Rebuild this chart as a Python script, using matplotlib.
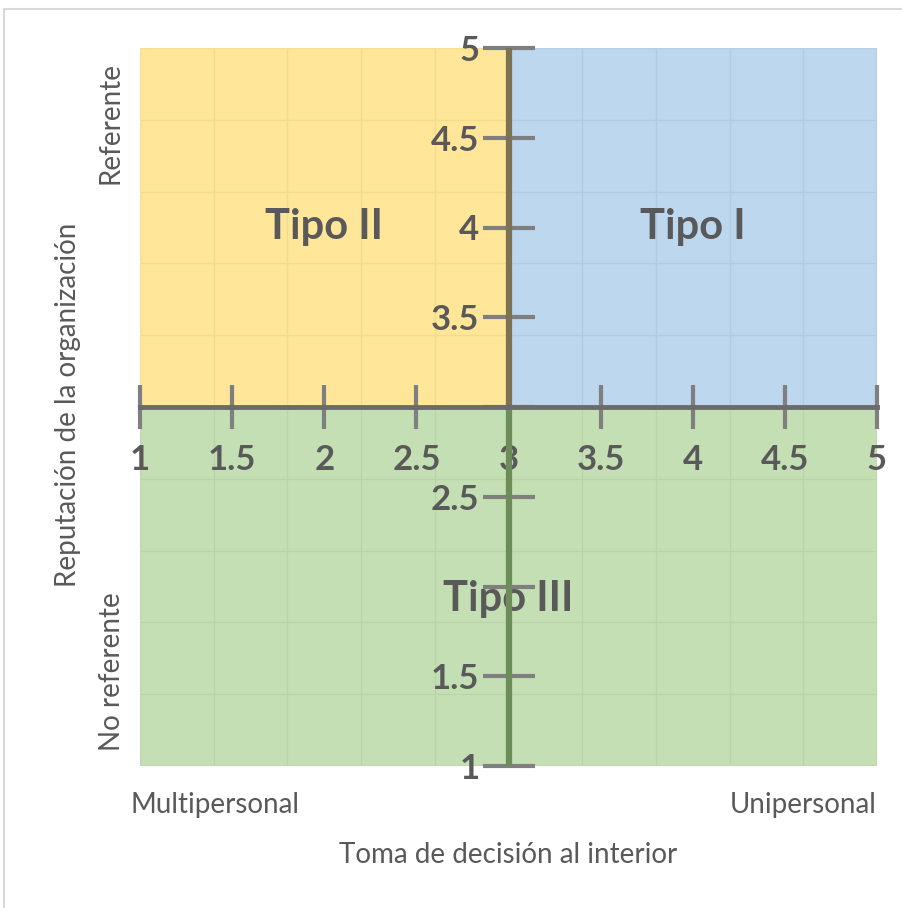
import numpy as np
import matplotlib.pyplot as plt
from matplotlib.patches import Rectangle

plt.rcParams['font.family'] = ['Lato', 'DejaVu Sans']

# Cuadrantes de la matriz (rango en x, rango en y, posición del rótulo)
tipos = ['Tipo I', 'Tipo II', 'Tipo III']
x_ini = [3, 1, 1]
x_fin = [5, 3, 5]
y_ini = [3, 3, 1]
y_fin = [5, 5, 3]
rotulo_x = [4, 2, 3]
rotulo_y = [4, 4, 1.93]
colores = ['#accdea', '#ffe080', '#b6d8a1']

ticks = [1, 1.5, 2, 2.5, 3, 3.5, 4, 4.5, 5]
xtick_labels = ['1', '1.5', '2', '2.5', '3', '3.5', '4', '4.5', '5']
ytick_labels = ['1', '1.5', '', '2.5', '', '3.5', '4', '4.5', '5']

gris = '#595959'

fig = plt.figure(figsize=(9.03, 9.08), dpi=100)
ax = fig.add_axes([140 / 903, 142 / 908, 737 / 903, 718 / 908])
ax.set_xlim(1, 5)
ax.set_ylim(1, 5)

# Rejilla de fondo (queda por debajo de los cuadrantes semitransparentes)
rejilla = np.linspace(1, 5, 11)
ax.vlines(rejilla, 1, 5, color='#c8c8c8', lw=1, zorder=0.5)
ax.hlines(rejilla, 1, 5, color='#c8c8c8', lw=1, zorder=0.5)

for tipo, x0, x1, y0, y1, tx, ty, c in zip(tipos, x_ini, x_fin, y_ini, y_fin,
                                             rotulo_x, rotulo_y, colores):
    ax.add_patch(Rectangle((x0, y0), x1 - x0, y1 - y0, facecolor=c, alpha=0.8,
                           edgecolor='none', zorder=1))
    ax.text(tx, ty, tipo, ha='center', va='center', fontsize=30,
            fontweight='bold', color=gris, zorder=2)

# Marco claro del área de trazado
ax.add_patch(Rectangle((0, 0), 1, 1, transform=ax.transAxes, fill=False,
                       edgecolor='#d9d9d9', lw=1.5, zorder=0.6))

# Ejes cruzados en (3, 3)
ax.vlines(3, 3, 5, color='#7b7256', lw=4.5, zorder=2.4)
ax.vlines(3, 1, 3, color='#6e8c5a', lw=4.5, zorder=2.4)
for lado in ['top', 'right']:
    ax.spines[lado].set_visible(False)
ax.spines['left'].set_position(('data', 3))
ax.spines['left'].set_color('none')
ax.spines['bottom'].set_position(('data', 3))
ax.spines['bottom'].set_color('#6b6b6b')
ax.spines['bottom'].set_linewidth(3.5)

ax.set_xticks(ticks)
ax.set_xticklabels(xtick_labels, fontweight='bold')
ax.set_yticks(ticks)
ax.set_yticklabels(ytick_labels, fontweight='bold')
ax.tick_params(axis='x', direction='inout', length=31, width=3, color='#7f7f7f',
               labelsize=25, labelcolor=gris, pad=11)
ax.tick_params(axis='y', direction='inout', length=38, width=3, color='#7f7f7f',
               labelsize=25, labelcolor=gris, pad=2)

# Títulos de los ejes y extremos
ax.text(0.102, -0.054, 'Multipersonal', transform=ax.transAxes, ha='center',
        va='center', fontsize=20, color=gris)
ax.text(0.9, -0.054, 'Unipersonal', transform=ax.transAxes, ha='center',
        va='center', fontsize=20, color=gris)
ax.text(0.499, -0.124, 'Toma de decisión al interior', transform=ax.transAxes,
        ha='center', va='center', fontsize=20, color=gris)
ax.text(-0.0407, 0.8955, 'Referente', transform=ax.transAxes, rotation=90,
        ha='center', va='center', fontsize=20, color=gris)
ax.text(-0.038, 0.131, 'No referente', transform=ax.transAxes, rotation=90,
        ha='center', va='center', fontsize=20, color=gris)
ax.text(-0.0977, 0.503, 'Reputación de la organización', transform=ax.transAxes,
        rotation=90, ha='center', va='center', fontsize=20, color=gris)

# Borde exterior del gráfico
fig.patches.append(Rectangle((4 / 903, -0.05), 1.1, 1 - 9 / 908 + 0.05,
                             transform=fig.transFigure, fill=False,
                             edgecolor='#d9d9d9', lw=1.5))

fig.savefig('out.png', dpi=100)
